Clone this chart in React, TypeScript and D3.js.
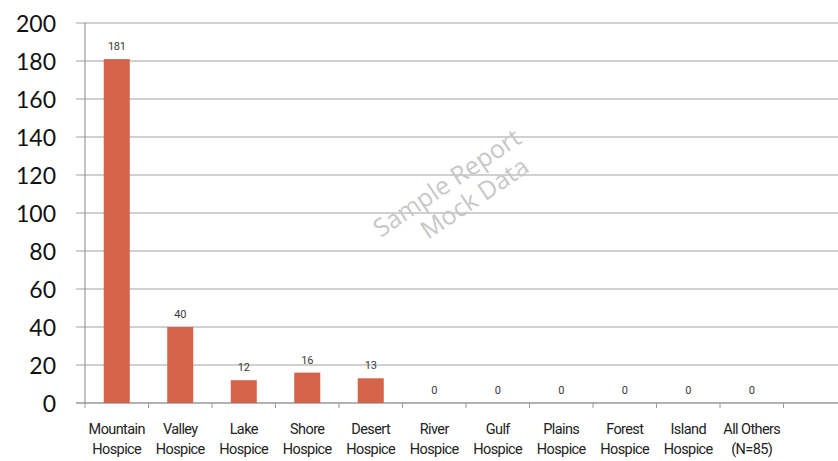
import React from "react";
import * as d3 from "d3";

const categories = [
  ["Mountain", "Hospice"],
  ["Valley", "Hospice"],
  ["Lake", "Hospice"],
  ["Shore", "Hospice"],
  ["Desert", "Hospice"],
  ["River", "Hospice"],
  ["Gulf", "Hospice"],
  ["Plains", "Hospice"],
  ["Forest", "Hospice"],
  ["Island", "Hospice"],
  ["All Others", "(N=85)"],
  ["", ""],
];
const values = [181, 40, 12, 16, 13, 0, 0, 0, 0, 0, 0, null];
const yTicks = [0, 20, 40, 60, 80, 100, 120, 140, 160, 180, 200];

const width = 838;
const height = 461;
const left = 85;
const bandW = 63.5;
const top = 23;
const bottom = 403;

export default function App() {
  const x = d3
    .scaleBand<number>()
    .domain(d3.range(categories.length))
    .range([left, left + bandW * categories.length])
    .paddingInner(0.59)
    .paddingOuter(0.295);
  const y = d3.scaleLinear().domain([0, 200]).range([bottom, top]);
  const narrow = "Roboto, sans-serif";

  return (
    <svg
      width={width}
      height={height}
      style={{ position: "absolute", top: 0, left: 0, background: "#fff" }}
    >
      {yTicks.map((t) => (
        <g key={t}>
          {t > 0 && (
            <line x1={76} x2={width} y1={y(t)} y2={y(t)} stroke="#c0c0c0" strokeWidth={1.3} />
          )}
          <text
            x={56}
            y={y(t)}
            dy="0.37em"
            textAnchor="end"
            fontFamily="Lato, sans-serif"
            fontSize={23}
            fill="#111"
          >
            {t}
          </text>
        </g>
      ))}
      {/* axes */}
      <line x1={left} x2={left} y1={top} y2={bottom} stroke="#888" strokeWidth={1} />
      <line x1={76} x2={width} y1={bottom} y2={bottom} stroke="#999" strokeWidth={1.3} />
      {d3.range(categories.length + 1).map((i) => (
        <line
          key={i}
          x1={left + i * bandW}
          x2={left + i * bandW}
          y1={bottom}
          y2={bottom + 5}
          stroke="#999"
        />
      ))}
      {values.map((v, i) =>
        v === null ? null : (
          <g key={i}>
            <rect
              x={x(i)}
              y={y(v)}
              width={x.bandwidth()}
              height={bottom - y(v)}
              fill="#D4654A"
            />
            <text
              x={x(i)! + x.bandwidth() / 2}
              y={y(v) - 9}
              textAnchor="middle"
              fontFamily={narrow}
              fontSize={11}
              letterSpacing={-0.3}
              fill="#3a3a3a"
            >
              {v}
            </text>
          </g>
        )
      )}
      {categories.map((c, i) => (
        <text
          key={i}
          textAnchor="middle"
          fontFamily={narrow}
          fontSize={14.5}
          letterSpacing={-0.6}
          fill="#222"
        >
          <tspan x={x(i)! + x.bandwidth() / 2} y={434}>
            {c[0]}
          </tspan>
          <tspan x={x(i)! + x.bandwidth() / 2} y={454}>
            {c[1]}
          </tspan>
        </text>
      ))}
      <g
        transform="translate(452,190) rotate(-34)"
        fill="#c8c8c8"
        fontFamily="'Open Sans', sans-serif"
        fontSize={25}
      >
        <text x={0} y={0} textAnchor="middle">Sample Report</text>
        <text x={14} y={28} textAnchor="middle">Mock Data</text>
      </g>
    </svg>
  );
}
